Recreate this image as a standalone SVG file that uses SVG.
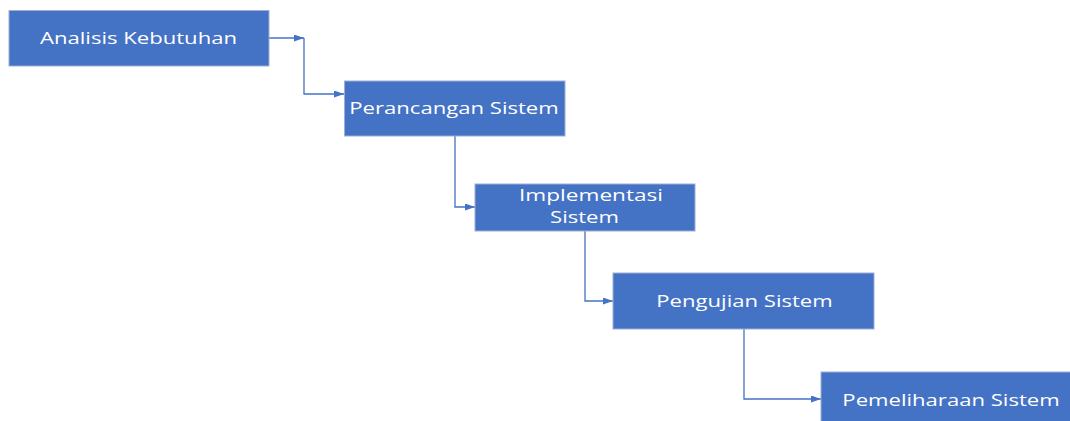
<svg xmlns="http://www.w3.org/2000/svg" width="1070" height="421" viewBox="0 0 1070 421">
<style>
.box{fill:#4472C4;stroke:#9DAFD6;stroke-width:1}
.lbl{fill:#FFFFFF;font-family:"Open Sans","Noto Sans",sans-serif;font-size:17px;text-anchor:middle}
.con{fill:none;stroke:#4472C4;stroke-width:1.3}
</style>
<defs>
<marker id="arr" markerWidth="10" markerHeight="7" refX="10" refY="3.5" orient="auto" markerUnits="userSpaceOnUse">
<path d="M0,0 L10,3.5 L0,7 Z" fill="#4472C4"/>
</marker>
</defs>
<rect width="1070" height="421" fill="#FFFFFF"/>
<g id="connectors">
<path class="con" d="M269,38 H304" marker-end="url(#arr)"/>
<path class="con" d="M304,38 V94 H344" marker-end="url(#arr)"/>
<path class="con" d="M455,136 V207 H475" marker-end="url(#arr)"/>
<path class="con" d="M585,231 V301 H613" marker-end="url(#arr)"/>
<path class="con" d="M744,329 V399 H821" marker-end="url(#arr)"/>
</g>
<g id="n1">
<rect class="box" x="9" y="10.5" width="260" height="55.5"/>
<text class="lbl" transform="translate(138.5,44) scale(1.3,1)">Analisis Kebutuhan</text>
</g>
<g id="n2">
<rect class="box" x="344.5" y="81" width="220.5" height="55"/>
<text class="lbl" transform="translate(454,114) scale(1.3,1)">Perancangan Sistem</text>
</g>
<g id="n3">
<rect class="box" x="475" y="184" width="220" height="47"/>
<text class="lbl" transform="translate(591,201) scale(1.33,1)">Implementasi</text>
<text class="lbl" transform="translate(584.5,223) scale(1.3,1)">Sistem</text>
</g>
<g id="n4">
<rect class="box" x="613" y="273" width="261" height="56"/>
<text class="lbl" transform="translate(744.5,307) scale(1.3,1)">Pengujian Sistem</text>
</g>
<g id="n5">
<rect class="box" x="821" y="372" width="260" height="60"/>
<text class="lbl" transform="translate(951,405.5) scale(1.3,1)">Pemeliharaan Sistem</text>
</g>
</svg>
